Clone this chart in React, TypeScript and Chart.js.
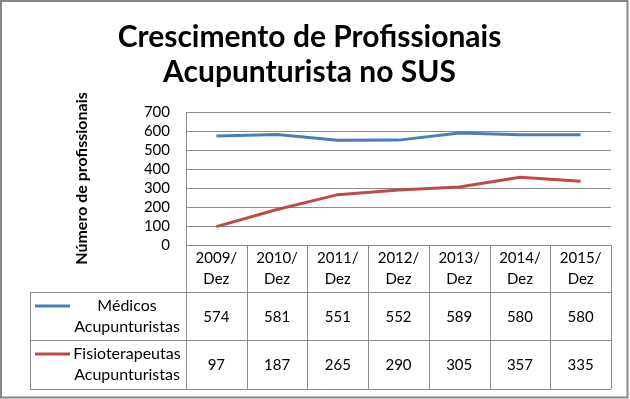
import { useEffect, useRef } from 'react';
import { Chart, registerables } from 'chart.js';

Chart.register(...registerables);

const titleLines = ['Crescimento de Profissionais', 'Acupunturista no SUS'];
const yAxisTitle = 'Número de profissionais';
const categories = ['2009/Dez', '2010/Dez', '2011/Dez', '2012/Dez', '2013/Dez', '2014/Dez', '2015/Dez'];
const categoryLines = [
  ['2009/', 'Dez'],
  ['2010/', 'Dez'],
  ['2011/', 'Dez'],
  ['2012/', 'Dez'],
  ['2013/', 'Dez'],
  ['2014/', 'Dez'],
  ['2015/', 'Dez'],
];
const medicos = [574, 581, 551, 552, 589, 580, 580];
const fisioterapeutas = [97, 187, 265, 290, 305, 357, 335];
const seriesNames = ['Médicos Acupunturistas', 'Fisioterapeutas Acupunturistas'];
const legendLines = [
  ['Médicos', 'Acupunturistas'],
  ['Fisioterapeutas', 'Acupunturistas'],
];
const yMin = 0;
const yMax = 700;
const yStep = 100;

const BLUE = '#4A7EBB';
const RED = '#BE4B48';
const GRID = '#8C8C8C';
const FONT = 'Lato';

const tablePlugin = {
  id: 'dataTable',
  beforeDraw(chart: any) {
    const ctx = chart.ctx;
    ctx.save();
    ctx.fillStyle = '#ffffff';
    ctx.fillRect(0, 0, chart.width, chart.height);
    ctx.restore();
  },
  afterDraw(chart: any) {
    const ctx = chart.ctx;
    const { right, bottom } = chart.chartArea;
    const xs = chart.scales.x;
    const n = categories.length;
    const w = xs.getPixelForValue(1) - xs.getPixelForValue(0);
    const rows = [bottom, bottom + 47, bottom + 95, bottom + 144];
    const legendLeft = 30;
    const px = (v: number) => Math.round(v) + 0.5;

    ctx.save();
    ctx.strokeStyle = GRID;
    ctx.lineWidth = 1;
    ctx.beginPath();
    for (let i = 0; i <= n; i++) {
      const x = px(xs.getPixelForValue(i) - w / 2);
      ctx.moveTo(x, rows[0]);
      ctx.lineTo(x, rows[3]);
    }
    for (let r = 1; r < rows.length; r++) {
      ctx.moveTo(legendLeft, px(rows[r]));
      ctx.lineTo(right, px(rows[r]));
    }
    ctx.moveTo(px(legendLeft), px(rows[1]));
    ctx.lineTo(px(legendLeft), px(rows[3]));
    ctx.stroke();

    ctx.fillStyle = '#000';
    ctx.textAlign = 'center';
    ctx.textBaseline = 'middle';
    ctx.font = `15px ${FONT}`;
    for (let i = 0; i < n; i++) {
      const cx = xs.getPixelForValue(i);
      ctx.fillText(categoryLines[i][0], cx, rows[0] + 13);
      ctx.fillText(categoryLines[i][1], cx, rows[0] + 34);
    }
    const series = [medicos, fisioterapeutas];
    const colors = [BLUE, RED];
    for (let s = 0; s < series.length; s++) {
      const top = rows[s + 1];
      const mid = (rows[s + 1] + rows[s + 2]) / 2;
      ctx.font = `15px ${FONT}`;
      for (let i = 0; i < n; i++) {
        ctx.fillText(String(series[s][i]), xs.getPixelForValue(i), mid + 1);
      }
      ctx.font = `16px ${FONT}`;
      ctx.fillText(legendLines[s][0], 127, top + 14);
      ctx.fillText(legendLines[s][1], 127, top + 35);
      ctx.save();
      ctx.strokeStyle = colors[s];
      ctx.lineWidth = 3;
      ctx.beginPath();
      ctx.moveTo(35, top + 14);
      ctx.lineTo(70, top + 14);
      ctx.stroke();
      ctx.restore();
    }

    ctx.strokeStyle = '#868686';
    ctx.lineWidth = 2;
    ctx.strokeRect(1, 1, 626.5, 396.5);
    ctx.restore();
  },
};

export default function App() {
  const ref = useRef<HTMLCanvasElement | null>(null);

  useEffect(() => {
    if (!ref.current) return;
    const chart = new Chart(ref.current, {
      type: 'line',
      data: {
        labels: categories,
        datasets: [
          {
            label: seriesNames[0],
            data: medicos,
            borderColor: BLUE,
            backgroundColor: BLUE,
            borderWidth: 3,
            pointRadius: 0,
            tension: 0,
            fill: false,
          },
          {
            label: seriesNames[1],
            data: fisioterapeutas,
            borderColor: RED,
            backgroundColor: RED,
            borderWidth: 3,
            pointRadius: 0,
            tension: 0,
            fill: false,
          },
        ],
      },
      options: {
        responsive: false,
        animation: false,
        devicePixelRatio: 1,
        layout: { padding: { left: 8, right: 19, top: 0, bottom: 154 } },
        plugins: {
          legend: { display: false },
          tooltip: { enabled: false },
          title: {
            display: true,
            text: titleLines,
            color: '#000',
            font: { family: FONT, size: 30, weight: 'bold', lineHeight: '35px' },
            padding: { top: 20, bottom: 22 },
          },
        },
        scales: {
          x: {
            type: 'category',
            display: false,
            offset: true,
          },
          y: {
            min: yMin,
            max: yMax,
            ticks: {
              stepSize: yStep,
              autoSkip: false,
              color: '#000',
              font: { family: FONT, size: 15 },
              padding: 16,
            },
            grid: { color: GRID, drawTicks: false, lineWidth: 1 },
            border: { display: true, color: GRID },
            title: {
              display: true,
              text: yAxisTitle,
              color: '#000',
              font: { family: FONT, size: 16, weight: 'bold' },
              padding: { top: 64, bottom: 0 },
            },
            afterFit: (scale: any) => {
              scale.width = 178;
            },
          },
        },
      },
      plugins: [tablePlugin],
    });
    return () => chart.destroy();
  }, []);

  return (
    <div style={{ position: 'absolute', left: 0, top: 0, width: 630, height: 399 }}>
      <canvas ref={ref} width={630} height={399} />
    </div>
  );
}
